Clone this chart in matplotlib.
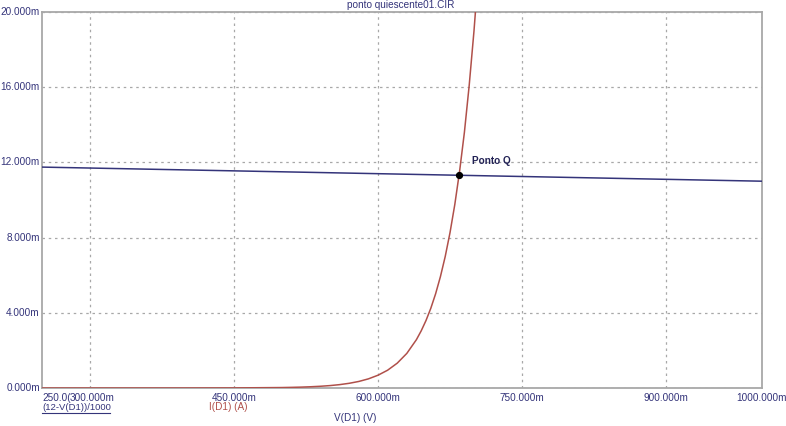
import matplotlib
matplotlib.use("Agg")
import matplotlib.pyplot as plt

# ---- data ----
v_diode = [250, 400, 450, 500, 510, 520, 530, 540, 550, 560, 570, 580, 590, 600, 610, 620, 630,
           640, 645, 650, 655, 660, 665, 670, 675, 680, 685, 690, 695, 700, 704]  # mV
i_diode = [0.0, 0.001, 0.005, 0.024, 0.034, 0.047, 0.066, 0.092, 0.128, 0.179, 0.25, 0.348, 0.486,
           0.68, 0.946, 1.32, 1.84, 2.57, 3.04, 3.59, 4.24, 5.01, 5.92, 6.99, 8.26, 9.76, 11.53,
           13.6, 16.1, 19.0, 21.7]  # mA
v_load = [250, 1000]          # mV
i_load = [11.75, 11.0]        # mA
q_v, q_i = 684.4, 11.32       # operating point
x_ticks = [300, 450, 600, 750, 900]
x_tick_labels = ["300.000m", "450.000m", "600.000m", "750.000m", "900.000m"]
y_ticks = [0, 4, 8, 12, 16, 20]
y_tick_labels = ["0.000m", "4.000m", "8.000m", "12.000m", "16.000m", "20.000m"]

navy = "#34347a"
red = "#b0504a"
grid_c = "#a8a8a8"
fam = ["Liberation Sans", "DejaVu Sans"]
fs = 7.2

fig = plt.figure(figsize=(7.86, 4.26), dpi=100)
ax = fig.add_axes([42/786, 38/426, 720/786, 376/426])
ax.set_xlim(250, 1000)
ax.set_ylim(0, 20)

ax.plot(v_diode, i_diode, color=red, lw=1.1, clip_on=True, zorder=3)
ax.plot(v_load, i_load, color=navy, lw=1.1, zorder=3)
ax.plot([q_v], [q_i], marker="o", color="black", ms=4.2, zorder=4)
ax.text(q_v + 13, q_i + 0.5, "Ponto Q", color="#222255", fontsize=fs, fontweight="bold",
        family=fam, va="bottom", ha="left")

for s in ax.spines.values():
    s.set_color(grid_c)
    s.set_linewidth(1.3)

ax.set_xticks(x_ticks)
ax.set_yticks(y_ticks)
ax.tick_params(length=0, labelbottom=False, labelleft=False)
ax.grid(True, color=grid_c, linestyle=(0, (2, 3)), linewidth=0.9)

for y, lab in zip(y_ticks, y_tick_labels):
    ax.text(-0.003, y / 20, lab, transform=ax.transAxes, ha="right", va="center",
            color=navy, fontsize=fs, family=fam)

trans = ax.get_xaxis_transform()
ax.text(250.5, -0.012, "250.0(", transform=trans, ha="left", va="top", color=navy,
        fontsize=fs, family=fam, clip_on=False)
for x, lab in zip(x_ticks, x_tick_labels):
    if x == 300:
        ax.text(278.5, -0.012, lab, transform=trans, ha="left", va="top", color=navy,
                fontsize=fs, family=fam)
    else:
        ax.text(x, -0.012, lab, transform=trans, ha="center", va="top", color=navy,
                fontsize=fs, family=fam)
ax.text(1000, -0.012, "1000.000m", transform=trans, ha="center", va="top", color=navy,
        fontsize=fs, family=fam, clip_on=False)

fig.text(42/786, 1 - 407/426, "(12-V(D1))/1000", ha="left", va="center", color=navy,
         fontsize=6.8, family=fam)
fig.add_artist(plt.Line2D([42/786, 110/786], [1 - 413/426, 1 - 413/426], color=navy, lw=0.8))
fig.text(228/786, 1 - 407/426, "I(D1) (A)", ha="center", va="center", color=red,
         fontsize=fs, family=fam)
fig.text(355/786, 1 - 418/426, "V(D1) (V)", ha="center", va="center", color=navy,
         fontsize=fs, family=fam)
fig.text(401/786, 1 - 5/426, "ponto quiescente01.CIR", ha="center", va="center", color=navy,
         fontsize=fs, family=fam)

fig.savefig("out.png", dpi=100)
